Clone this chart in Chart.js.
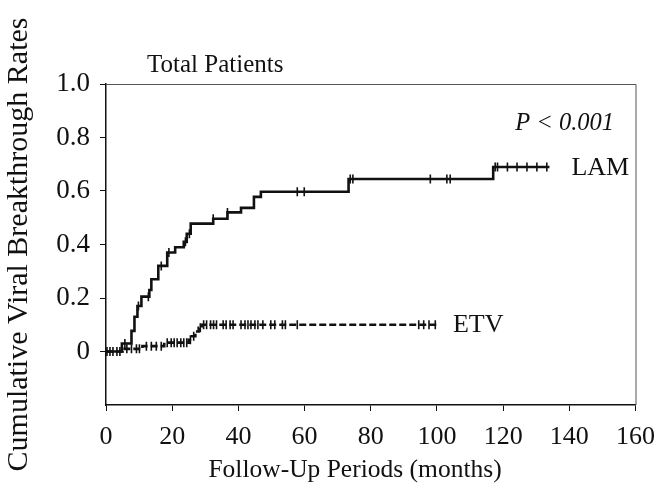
<!DOCTYPE html>
<html>
<head>
<meta charset="utf-8">
<script src="https://cdn.jsdelivr.net/npm/chart.js@4"></script>
<style>
  html, body { margin: 0; padding: 0; background: #fff; }
  #wrap { width: 666px; height: 490px; }
</style>
</head>
<body>
<div id="wrap"><canvas id="kmChart" width="666" height="490"></canvas></div>
<script>
// Kaplan-Meier curves (months, cumulative rate)
const lamEventMonths = [0, 4.8, 7.7, 8.6, 9.5, 10.7, 13.1, 13.7, 15.8, 18.5, 20.9, 23.5, 24.4, 25.6, 32.4, 36.7, 40.8, 44.7, 46.8, 73.3, 117.0, 134.0];
const lamRates       = [0, 0.03, 0.077, 0.13, 0.17, 0.205, 0.23, 0.27, 0.32, 0.37, 0.39, 0.41, 0.44, 0.478, 0.496, 0.52, 0.537, 0.578, 0.597, 0.645, 0.69, 0.69];
const lamCensorMonths = [5.7, 9.8, 12.8, 16.7, 19.0, 24.0, 25.2, 32.4, 36.7, 57.8, 59.9, 73.8, 74.6, 98.0, 103.0, 104.0, 117.6, 118.3, 121.3, 124.2, 127.2, 130.2, 133.2];

const etvEventMonths = [0, 5.0, 11.0, 17.6, 25.0, 26.0, 27.0, 28.0, 29.0, 100.0];
const etvRates       = [0, 0.01, 0.02, 0.033, 0.044, 0.057, 0.075, 0.089, 0.10, 0.10];
const etvCensorMonths = [0.3, 1.2, 2.1, 3.3, 4.2, 6.3, 7.7, 9.2, 10.1, 12.2, 13.7, 15.2, 16.7,
  18.5, 19.7, 20.6, 21.5, 22.6, 23.5, 24.4, 25.5, 26.5, 28.5, 29.5, 30.4, 31.6, 32.5, 33.4,
  35.4, 36.3, 37.5, 38.4, 40.8, 42.0, 42.9, 43.8, 45.0, 45.9, 47.4, 49.8, 51.0, 53.3, 54.2,
  57.8, 94.5, 96.0, 97.6, 99.5];

const xTicks = [0, 20, 40, 60, 80, 100, 120, 140, 160];
const yTicks = [0, 0.2, 0.4, 0.6, 0.8, 1.0];

const serif = '"Liberation Serif", "Times New Roman", serif';

// value of the step curve at time t (censor marks sit on the curve)
function rateAt(months, rates, t) {
  let r = rates[0];
  for (let i = 0; i < months.length; i++) {
    if (months[i] <= t) r = rates[i];
  }
  return r;
}

const toPoints = (xs, ys) => xs.map((x, i) => ({ x: x, y: ys[i] }));
const censorPoints = (cm, months, rates) => cm.map(t => ({ x: t, y: rateAt(months, rates, t) }));

// box lines (top, right), x title and the text labels
const decorations = {
  id: 'decorations',
  afterDraw(chart) {
    const { ctx, chartArea } = chart;
    const xs = chart.scales.x, ys = chart.scales.y;
    ctx.save();
    ctx.strokeStyle = '#555';
    ctx.lineWidth = 1;
    ctx.beginPath();
    ctx.moveTo(chartArea.left, chartArea.top + 0.5);
    ctx.lineTo(chartArea.right + 0.5, chartArea.top + 0.5);
    ctx.lineTo(chartArea.right + 0.5, chartArea.bottom);
    ctx.stroke();

    ctx.fillStyle = '#111';
    ctx.textBaseline = 'middle';
    ctx.textAlign = 'center';
    ctx.font = '25.5px ' + serif;
    ctx.fillText('Follow-Up Periods (months)', 355, 470);

    ctx.textAlign = 'left';
    ctx.font = '25px ' + serif;
    ctx.fillText('Total Patients', 147, 65);

    ctx.font = 'italic 24.5px ' + serif;
    ctx.textAlign = 'right';
    ctx.fillText('P < 0.001', 614, 124);

    ctx.font = '26px ' + serif;
    ctx.textAlign = 'left';
    const lamEnd = lamEventMonths.length - 1;
    ctx.fillText('LAM', xs.getPixelForValue(lamEventMonths[lamEnd]) + 22, ys.getPixelForValue(lamRates[lamEnd]) + 1);
    const etvEnd = etvEventMonths.length - 1;
    ctx.fillText('ETV', xs.getPixelForValue(etvEventMonths[etvEnd]) + 16, ys.getPixelForValue(etvRates[etvEnd]));
    ctx.restore();
  }
};

const ctx = document.getElementById('kmChart').getContext('2d');
new Chart(ctx, {
  type: 'line',
  data: {
    datasets: [
      {
        label: 'LAM',
        data: toPoints(lamEventMonths, lamRates),
        stepped: 'before',
        borderColor: '#111',
        borderWidth: 2.6,
        pointRadius: 0,
        fill: false
      },
      {
        label: 'ETV',
        data: toPoints(etvEventMonths, etvRates),
        stepped: 'before',
        borderColor: '#111',
        borderWidth: 2.6,
        borderDash: [7, 3],
        pointRadius: 0,
        fill: false
      },
      {
        label: 'LAM censored',
        data: censorPoints(lamCensorMonths, lamEventMonths, lamRates),
        showLine: false,
        pointStyle: 'line',
        rotation: 90,
        pointRadius: 4.5,
        pointBorderWidth: 1.6,
        borderColor: '#111'
      },
      {
        label: 'ETV censored',
        data: censorPoints(etvCensorMonths, etvEventMonths, etvRates),
        showLine: false,
        pointStyle: 'line',
        rotation: 90,
        pointRadius: 4.5,
        pointBorderWidth: 1.6,
        borderColor: '#111'
      }
    ]
  },
  options: {
    responsive: false,
    animation: false,
    events: [],
    layout: { padding: { top: 84, right: 23, left: 1, bottom: 5 } },
    plugins: { legend: { display: false }, tooltip: { enabled: false } },
    scales: {
      x: {
        type: 'linear',
        min: 0,
        max: 160,
        afterFit: (s) => { s.height = 80; },
        afterBuildTicks: (s) => { s.ticks = xTicks.map(v => ({ value: v })); },
        grid: { drawOnChartArea: false, drawTicks: true, tickLength: 6, tickColor: '#111', tickWidth: 1 },
        border: { display: true, color: '#111', width: 1.5 },
        ticks: { color: '#111', padding: 11, font: { family: serif, size: 26 }, maxRotation: 0 },
        title: { display: false }
      },
      y: {
        min: -0.2,
        max: 1.0,
        afterFit: (s) => { s.width = 105; },
        afterBuildTicks: (s) => { s.ticks = yTicks.map(v => ({ value: v })); },
        grid: { drawOnChartArea: false, drawTicks: true, tickLength: 6, tickColor: '#111', tickWidth: 1 },
        border: { display: true, color: '#111', width: 1.5 },
        ticks: {
          color: '#111',
          padding: 10,
          font: { family: serif, size: 27 },
          callback: (v) => (v === 0 ? '0' : Number(v).toFixed(1))
        },
        title: { display: true, text: 'Cumulative Viral Breakthrough Rates', color: '#111', padding: 0, font: { family: serif, size: 30 } }
      }
    }
  },
  plugins: [decorations]
});
</script>
</body>
</html>
